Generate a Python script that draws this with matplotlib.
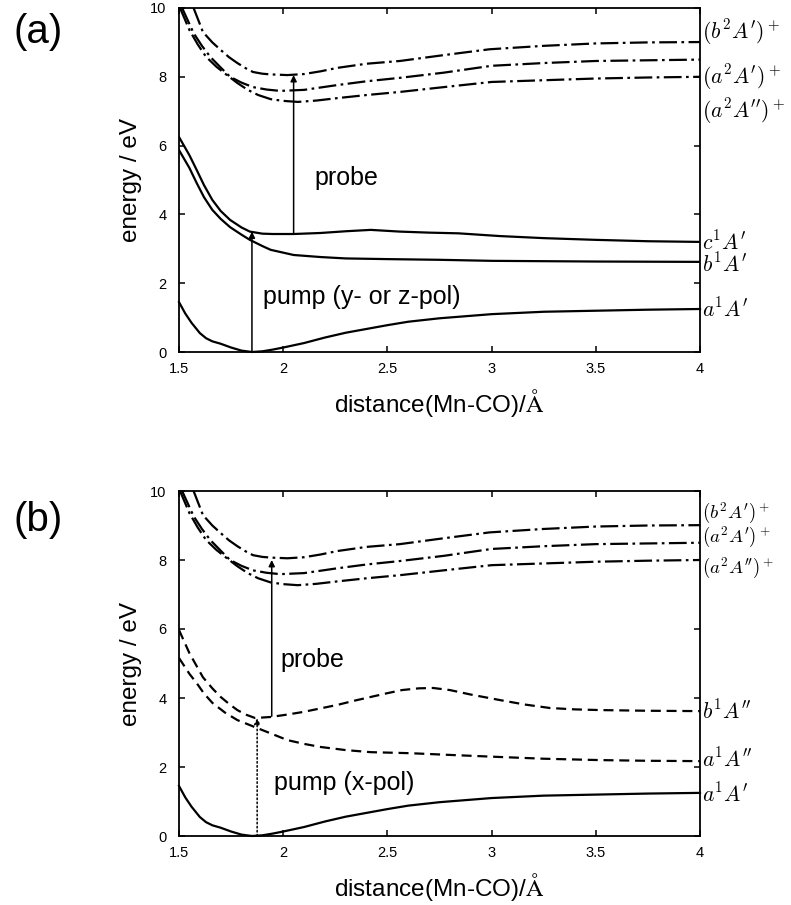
import matplotlib
matplotlib.use("Agg")
import matplotlib.pyplot as plt

plt.rcParams['font.family'] = ['Liberation Sans', 'DejaVu Sans']
plt.rcParams['mathtext.fontset'] = 'cm'

# ---------------- data (distance in Angstrom, energy in eV) ----------------
r_ground = [1.5, 1.53, 1.56, 1.6, 1.63, 1.66, 1.7, 1.75, 1.8, 1.85, 1.9, 1.95, 2.0, 2.1, 2.2,
            2.3, 2.4, 2.5, 2.6, 2.75, 3.0, 3.25, 3.5, 3.75, 4.0]
e_ground = [1.45, 1.12, 0.85, 0.55, 0.4, 0.31, 0.24, 0.13, 0.04, 0.0, 0.02, 0.07, 0.13, 0.26,
            0.42, 0.56, 0.67, 0.78, 0.88, 0.98, 1.1, 1.17, 1.2, 1.23, 1.25]

r_c1 = [1.5, 1.55, 1.585, 1.62, 1.66, 1.7, 1.745, 1.8, 1.84, 1.9, 1.95, 2.05, 2.18, 2.3,
        2.42, 2.56, 2.7, 2.84, 3.04, 3.25, 3.5, 3.75, 4.0]
e_c1 = [6.25, 5.72, 5.29, 4.85, 4.42, 4.1, 3.84, 3.62, 3.5, 3.44, 3.43, 3.43, 3.46, 3.51,
        3.55, 3.5, 3.47, 3.45, 3.37, 3.31, 3.26, 3.22, 3.2]

r_b1 = [1.5, 1.55, 1.585, 1.62, 1.66, 1.7, 1.745, 1.8, 1.84, 1.9, 1.94, 2.05, 2.18, 2.3,
        2.5, 2.75, 3.0, 3.5, 4.0]
e_b1 = [5.87, 5.35, 4.91, 4.5, 4.13, 3.87, 3.63, 3.41, 3.26, 3.08, 2.97, 2.82, 2.76, 2.72,
        2.7, 2.68, 2.65, 2.63, 2.62]

r_ion_b2 = [1.57, 1.615, 1.66, 1.70, 1.74, 1.78, 1.82, 1.855, 1.9, 1.94, 2.02, 2.1, 2.18,
            2.26, 2.4, 2.56, 2.77, 2.99, 3.25, 3.5, 3.75, 4.0]
e_ion_b2 = [10.0, 9.3, 9.0, 8.78, 8.57, 8.4, 8.25, 8.14, 8.09, 8.07, 8.05, 8.08, 8.16,
            8.26, 8.38, 8.46, 8.63, 8.8, 8.9, 8.97, 9.0, 9.01]

r_ion_a2p = [1.515, 1.57, 1.61, 1.65, 1.7, 1.745, 1.8, 1.855, 1.92, 1.985, 2.1, 2.26,
             2.4, 2.56, 2.77, 3.0, 3.25, 3.5, 3.75, 4.0]
e_ion_a2p = [10.0, 9.27, 8.9, 8.58, 8.27, 8.0, 7.83, 7.7, 7.63, 7.59, 7.62, 7.76,
             7.87, 7.97, 8.12, 8.32, 8.4, 8.46, 8.48, 8.5]

r_ion_a2pp = [1.505, 1.55, 1.59, 1.63, 1.68, 1.73, 1.78, 1.83, 1.88, 1.94, 2.0, 2.07,
              2.16, 2.26, 2.4, 2.56, 2.77, 3.0, 3.25, 3.5, 3.75, 4.0]
e_ion_a2pp = [10.0, 9.36, 8.94, 8.58, 8.29, 8.05, 7.82, 7.62, 7.47, 7.35, 7.3, 7.27,
              7.31, 7.38, 7.47, 7.56, 7.7, 7.85, 7.9, 7.95, 7.98, 8.0]

r_b1pp = [1.5, 1.55, 1.615, 1.66, 1.70, 1.74, 1.78, 1.82, 1.865, 1.94, 2.02, 2.1, 2.18,
          2.26, 2.34, 2.42, 2.5, 2.57, 2.65, 2.72, 2.8, 2.9, 3.04, 3.16, 3.28, 3.4,
          3.52, 3.75, 4.0]
e_b1pp = [5.97, 5.3, 4.6, 4.28, 4.03, 3.83, 3.65, 3.52, 3.42, 3.45, 3.52, 3.6, 3.7,
          3.8, 3.92, 4.03, 4.14, 4.23, 4.28, 4.29, 4.23, 4.1, 3.94, 3.81, 3.71, 3.67,
          3.65, 3.63, 3.62]

r_a1pp = [1.5, 1.55, 1.585, 1.62, 1.66, 1.72, 1.78, 1.875, 1.95, 2.02, 2.1, 2.18, 2.3,
          2.42, 2.61, 2.8, 3.04, 3.25, 3.52, 3.75, 4.0]
e_a1pp = [5.16, 4.7, 4.43, 4.13, 3.86, 3.58, 3.36, 3.13, 2.95, 2.78, 2.67, 2.58, 2.49,
          2.43, 2.4, 2.35, 2.29, 2.24, 2.2, 2.18, 2.17]

# transitions: (x, start energy, end energy)
pump_a = (1.85, 0.0, 3.5)
probe_a = (2.05, 3.43, 8.05)
pump_b = (1.875, 0.0, 3.42)
probe_b = (1.945, 3.47, 8.0)

labels_a = [(r"$(b^2A^{\prime})^+$", 9.3), (r"$(a^2A^{\prime})^+$", 8.0),
            (r"$(a^2A^{\prime\prime})^+$", 6.99), (r"$c^1A^{\prime}$", 3.17),
            (r"$b^1A^{\prime}$", 2.53), (r"$a^1A^{\prime}$", 1.22)]
labels_b_ion = [(r"$(b^2A^{\prime})^+$", 9.36), (r"$(a^2A^{\prime})^+$", 8.64),
                (r"$(a^2A^{\prime\prime})^+$", 7.77)]
labels_b = [(r"$b^1A^{\prime\prime}$", 3.6), (r"$a^1A^{\prime\prime}$", 2.2),
            (r"$a^1A^{\prime}$", 1.19)]

xticks = [1.5, 2, 2.5, 3, 3.5, 4]
xticklabels = ["1.5", "2", "2.5", "3", "3.5", "4"]
yticks = [0, 2, 4, 6, 8, 10]

# ---------------- figure ----------------
W, H = 791, 905
fig = plt.figure(figsize=(W / 100, H / 100), dpi=100)

def px_axes(l, t, r, b):
    return fig.add_axes([l / W, 1 - b / H, (r - l) / W, (b - t) / H])

ax1 = px_axes(179, 8, 700, 352)
ax2 = px_axes(179, 491, 700, 836)

lw = 1.6
dashdot = (0, (8, 2, 1.2, 2))
dashed = (0, (4.5, 2.6))

def setup(ax):
    ax.set_xlim(1.5, 4)
    ax.set_ylim(0, 10)
    ax.set_xticks(xticks)
    ax.set_xticklabels(xticklabels)
    ax.set_yticks(yticks)
    ax.tick_params(direction='in', length=4, width=1.1, top=True, right=True,
                   labelsize=10.5, pad=7)
    ax.tick_params(axis='y', pad=9)
    for s in ax.spines.values():
        s.set_linewidth(1.3)
    ax.set_xlabel(r"distance(Mn-CO)/$\mathrm{\AA}$", fontsize=17.5, labelpad=8)
    ax.set_ylabel("energy / eV", fontsize=17.5, labelpad=6)

def arrow(ax, spec, ls='-'):
    x, y0, y1 = spec
    ax.annotate("", xy=(x, y1), xytext=(x, y0),
                arrowprops=dict(arrowstyle='-|>', lw=1.1, color='k', linestyle=ls,
                                mutation_scale=9, shrinkA=0, shrinkB=0))

for ax in (ax1, ax2):
    setup(ax)
    ax.plot(r_ion_b2, e_ion_b2, color='k', lw=lw, linestyle=dashdot)
    ax.plot(r_ion_a2p, e_ion_a2p, color='k', lw=lw, linestyle=dashdot)
    ax.plot(r_ion_a2pp, e_ion_a2pp, color='k', lw=lw, linestyle=dashdot)
    ax.plot(r_ground, e_ground, color='k', lw=lw, clip_on=False)

# panel (a)
ax1.plot(r_c1, e_c1, color='k', lw=lw)
ax1.plot(r_b1, e_b1, color='k', lw=lw)
arrow(ax1, pump_a)
arrow(ax1, probe_a)
ax1.text(2.15, 5.06, "probe", fontsize=18, va='center', ha='left')
ax1.text(1.905, 1.6, "pump (y- or z-pol)", fontsize=18, va='center', ha='left')
for txt, y in labels_a:
    ax1.text(4.01, y, txt, fontsize=15.5, va='center', ha='left')
fig.text(38 / W, 1 - 32 / H, "(a)", fontsize=29, ha='center', va='center')

# panel (b)
ax2.plot(r_b1pp, e_b1pp, color='k', lw=lw, linestyle=dashed)
ax2.plot(r_a1pp, e_a1pp, color='k', lw=lw, linestyle=dashed)
arrow(ax2, pump_b, ls=':')
arrow(ax2, probe_b)
ax2.text(1.985, 5.1, "probe", fontsize=18, va='center', ha='left')
ax2.text(1.955, 1.55, "pump (x-pol)", fontsize=18, va='center', ha='left')
for txt, y in labels_b_ion:
    ax2.text(4.01, y, txt, fontsize=13.5, va='center', ha='left')
for txt, y in labels_b:
    ax2.text(4.01, y, txt, fontsize=15.5, va='center', ha='left')
fig.text(38 / W, 1 - 520 / H, "(b)", fontsize=29, ha='center', va='center')

fig.savefig("out.png", dpi=100)
